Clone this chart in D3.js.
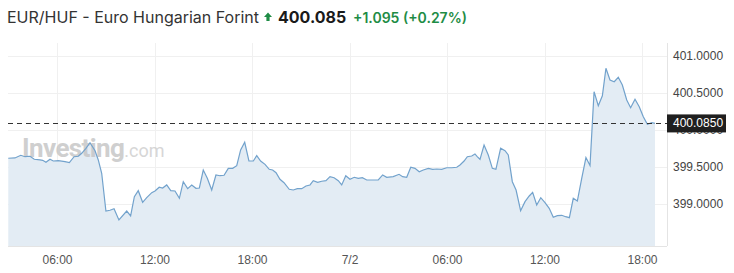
<!DOCTYPE html>
<html>
<head>
<meta charset="utf-8">
<script src="https://cdn.jsdelivr.net/npm/d3@7"></script>
<style>
  body { margin: 0; background: #fff; }
  #chart { width: 734px; height: 273px; }
</style>
</head>
<body>
<div id="chart"></div>
<script>
// hours since 7/1 00:00
const hours = [2.97,3.38,3.74,4.00,4.31,4.57,4.92,5.09,5.29,5.54,5.74,6.05,6.46,6.73,7.02,7.28,7.49,7.75,8.00,8.31,
  8.51,8.72,8.98,9.23,9.48,9.78,10.26,10.50,10.73,10.97,11.24,11.49,11.80,12.00,12.26,12.47,12.72,12.97,13.23,13.50,
  13.74,14.01,14.26,14.52,14.73,14.97,15.22,15.49,15.75,16.00,16.25,16.51,16.78,17.03,17.27,17.52,17.78,18.05,18.26,18.50,
  18.77,19.03,19.24,19.45,19.69,19.94,20.26,20.51,20.76,21.03,21.29,21.54,21.74,22.01,22.26,22.52,22.77,23.02,23.28,23.49,
  23.74,24.00,24.26,24.51,24.76,25.03,25.34,25.74,26.01,26.26,26.66,27.02,27.24,27.49,27.74,28.00,28.26,28.51,28.82,29.09,
  29.34,29.64,29.95,30.26,30.57,30.77,31.02,31.22,31.49,31.69,31.83,32.00,32.25,32.51,32.76,32.98,33.27,33.54,33.74,33.99,
  34.22,34.50,34.77,35.03,35.24,35.49,35.74,36.00,36.26,36.51,36.76,37.03,37.27,37.50,37.74,37.99,38.26,38.52,38.77,39.02,
  39.28,39.53,39.75,40.00,40.26,40.51,40.76,41.03,41.27,41.54,41.80,42.05,42.30,42.57,42.77];

const prices = [399.614,399.618,399.654,399.635,399.641,399.600,399.591,399.586,399.559,399.600,399.577,399.581,399.568,399.554,399.635,399.641,399.681,399.749,399.824,399.716,
  399.591,399.411,398.901,398.911,398.932,398.780,398.901,398.834,399.095,399.176,399.019,399.081,399.149,399.172,399.222,399.212,399.253,399.176,399.172,399.073,
  399.297,399.203,399.253,399.208,399.212,399.455,399.343,399.185,399.388,399.378,399.384,399.478,399.478,399.514,399.726,399.830,399.577,399.577,399.649,399.577,
  399.532,399.465,399.455,399.419,399.330,399.284,399.195,399.185,399.203,399.203,399.239,399.253,399.311,399.289,399.303,399.311,399.365,399.351,399.311,399.253,
  399.378,399.330,399.357,399.343,399.351,399.320,399.320,399.320,399.388,399.357,399.365,399.397,399.365,399.357,399.492,399.478,399.432,399.455,399.478,399.465,
  399.469,399.465,399.486,399.486,399.492,399.523,399.577,399.635,399.645,399.672,399.635,399.600,399.793,399.658,399.478,399.465,399.749,399.716,399.658,399.297,
  399.185,398.905,399.027,399.104,399.154,398.982,399.081,399.014,398.938,398.816,398.838,398.843,398.824,398.811,399.073,399.036,399.343,399.624,399.516,400.514,
  400.324,400.459,400.830,400.672,400.649,400.708,400.604,400.401,400.297,400.411,400.311,400.176,400.073,400.095,400.085];

const xTicks = [6, 12, 18, 24, 30, 36, 42];
const xTickLabels = ["06:00", "12:00", "18:00", "7/2", "06:00", "12:00", "18:00"];
const yTicks = [399.0, 399.5, 400.0, 400.5, 401.0];
const lastPrice = 400.085;

const width = 734, height = 273;
const plot = { left: 8, right: 667, top: 43, bottom: 246 };

const svg = d3.select("#chart").append("svg")
    .attr("width", width)
    .attr("height", height);

const x = d3.scaleLinear().domain([2.954, 43.508]).range([plot.left, plot.right]);
const y = d3.scaleLinear().domain([398.428, 401.172]).range([plot.bottom, plot.top]);

const data = hours.map((h, i) => ({ h: h, v: prices[i] }));

// grid
svg.append("g").selectAll("line.hg")
    .data(yTicks).enter().append("line")
    .attr("x1", plot.left).attr("x2", plot.right)
    .attr("y1", d => Math.round(y(d)) + 0.5).attr("y2", d => Math.round(y(d)) + 0.5)
    .attr("stroke", "#f0f0f0");

svg.append("g").selectAll("line.vg")
    .data(xTicks).enter().append("line")
    .attr("x1", d => Math.round(x(d)) + 0.5).attr("x2", d => Math.round(x(d)) + 0.5)
    .attr("y1", plot.top).attr("y2", plot.bottom)
    .attr("stroke", "#f0f0f0");

// area + line
const area = d3.area().x(d => x(d.h)).y0(plot.bottom).y1(d => y(d.v));
const line = d3.line().x(d => x(d.h)).y(d => y(d.v));

svg.append("path").datum(data)
    .attr("d", area)
    .attr("fill", "#e3ecf4");

// watermark
const wm = svg.append("text")
    .attr("x", 22).attr("y", 157)
    .attr("font-family", "Roboto, Arial, sans-serif")
    .attr("opacity", 0.8);
wm.append("tspan").attr("font-size", "26px").attr("font-weight", "bold")
    .attr("fill", "#c4c4c4").attr("letter-spacing", "-0.6").text("Investing");
wm.append("tspan").attr("font-size", "18px").attr("fill", "#cdcdcd").text(".com");

svg.append("path").datum(data)
    .attr("d", line)
    .attr("fill", "none")
    .attr("stroke", "#72a2cc")
    .attr("stroke-width", 1.2);

// axis frame
svg.append("line")
    .attr("x1", plot.left).attr("x2", plot.right)
    .attr("y1", plot.bottom + 0.5).attr("y2", plot.bottom + 0.5)
    .attr("stroke", "#e4e4e4");
svg.append("line")
    .attr("x1", plot.right + 0.5).attr("x2", plot.right + 0.5)
    .attr("y1", plot.top).attr("y2", plot.bottom)
    .attr("stroke", "#e4e4e4");

// y labels
svg.append("g").selectAll("text")
    .data(yTicks).enter().append("text")
    .attr("x", 673).attr("y", d => y(d) + 4)
    .attr("font-family", "Arial, 'Liberation Sans', sans-serif")
    .attr("font-size", "12px")
    .attr("fill", "#444")
    .text(d => d.toFixed(4));

// x labels
svg.append("g").selectAll("text")
    .data(xTicks).enter().append("text")
    .attr("x", d => x(d)).attr("y", 264)
    .attr("text-anchor", "middle")
    .attr("font-family", "Arial, 'Liberation Sans', sans-serif")
    .attr("font-size", "12px")
    .attr("fill", "#555")
    .text((d, i) => xTickLabels[i]);

// last price line + tag
svg.append("line")
    .attr("x1", plot.left).attr("x2", plot.right)
    .attr("y1", Math.round(y(lastPrice)) + 0.5).attr("y2", Math.round(y(lastPrice)) + 0.5)
    .attr("stroke", "#333")
    .attr("stroke-dasharray", "5,4");

svg.append("rect")
    .attr("x", plot.right).attr("y", y(lastPrice) - 9)
    .attr("width", 59).attr("height", 18)
    .attr("fill", "#1f1f1f");
svg.append("text")
    .attr("x", 673).attr("y", y(lastPrice) + 4)
    .attr("font-family", "Arial, 'Liberation Sans', sans-serif")
    .attr("font-size", "12px")
    .attr("fill", "#fff")
    .text(lastPrice.toFixed(4));

// title
svg.append("text")
    .attr("x", 7).attr("y", 23)
    .attr("font-family", "Inter, 'Noto Sans', sans-serif")
    .attr("font-size", "16px").attr("fill", "#333")
    .text("EUR/HUF - Euro Hungarian Forint");

svg.append("path")
    .attr("d", "M264,17 L268,12.5 L272,17 L269.6,17 L269.6,21 L266.4,21 L266.4,17 Z")
    .attr("fill", "#1e8c45");

svg.append("text")
    .attr("x", 278).attr("y", 23)
    .attr("font-family", "Inter, 'Noto Sans', sans-serif")
    .attr("font-size", "16px").attr("font-weight", "bold").attr("fill", "#1a1a1a")
    .text("400.085");

svg.append("text")
    .attr("x", 353).attr("y", 23)
    .attr("font-family", "Inter, 'Noto Sans', sans-serif")
    .attr("font-size", "14px").attr("font-weight", 600).attr("fill", "#1e8c45")
    .text("+1.095 (+0.27%)");
</script>
</body>
</html>
